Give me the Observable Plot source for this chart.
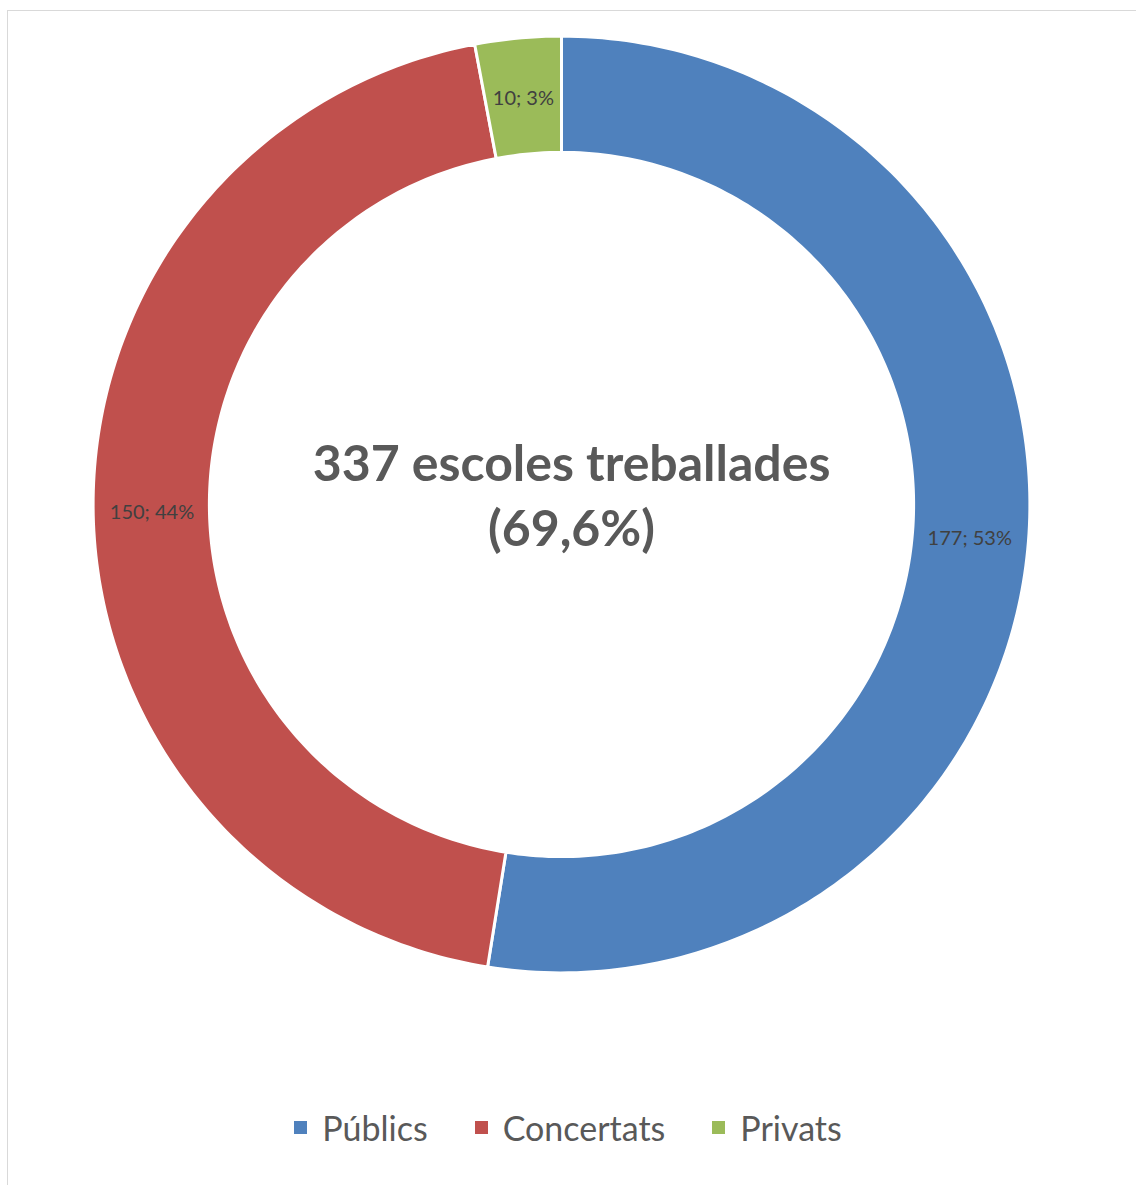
<!DOCTYPE html>
<html>
<head>
<meta charset="utf-8">
<script src="https://cdn.jsdelivr.net/npm/d3@7"></script>
<script src="https://cdn.jsdelivr.net/npm/@observablehq/plot@0.6"></script>
<style>
  html, body { margin: 0; padding: 0; background: #fff; }
  body { width: 1136px; height: 1185px; position: relative; overflow: hidden; font-family: Lato, "Open Sans", sans-serif; }
  #frame { position: absolute; left: 7px; top: 10px; width: 1300px; height: 1300px; border-left: 1.5px solid #d9d9d9; border-top: 1.5px solid #d9d9d9; }
  #chart { position: absolute; left: 0; top: 0; }
  #legend { position: absolute; left: 0; top: 1107px; width: 1136px; display: flex; justify-content: center; gap: 47px; padding-left: 0px; box-sizing: border-box; }
  .item { display: flex; align-items: center; font-size: 34px; color: #595959; }
  .sw { width: 13px; height: 13px; margin-right: 15px; }
</style>
</head>
<body>
<div id="frame"></div>
<div id="chart"></div>
<div id="legend"></div>
<script>
// Data
const categories = ["Públics", "Concertats", "Privats"];
const values = [177, 150, 10];
const percents = [53, 44, 3];
const colors = ["#4f81bd", "#c0504d", "#9bbb59"];
const centerLines = ["337 escoles treballades", "(69,6%)"];

// Build slice polygons from the data (angles in radians, clockwise from 12 o'clock)
const total = d3.sum(values);
const outerR = 1.003, innerR = 0.754;
const slices = [];
let acc = 0;
values.forEach((v, i) => {
  const a0 = acc / total * 2 * Math.PI;
  acc += v;
  const a1 = acc / total * 2 * Math.PI;
  slices.push({name: categories[i], value: v, a0, a1, mid: (a0 + a1) / 2, label: `${v}; ${percents[i]}%`});
});
const poly = [];
for (const s of slices) {
  const n = Math.max(8, Math.ceil((s.a1 - s.a0) / (Math.PI / 180)));
  for (let k = 0; k <= n; k++) {
    const a = s.a0 + (s.a1 - s.a0) * k / n;
    poly.push({name: s.name, x: outerR * Math.sin(a), y: outerR * Math.cos(a)});
  }
  for (let k = n; k >= 0; k--) {
    const a = s.a0 + (s.a1 - s.a0) * k / n;
    poly.push({name: s.name, x: innerR * Math.sin(a), y: innerR * Math.cos(a)});
  }
}
const midR = (1 + innerR) / 2;
const labels = slices.map(s => ({label: s.label, x: midR * Math.sin(s.mid), y: midR * Math.cos(s.mid)}));

const plot = Plot.plot({
  width: 1136,
  height: 1080,
  margin: 0,
  x: {domain: [-1, 1], range: [94, 1028], axis: null},
  y: {domain: [-1, 1], range: [971, 37], axis: null},
  color: {domain: categories, range: colors},
  style: {background: "transparent", fontFamily: "Lato, 'Open Sans', sans-serif"},
  marks: [
    Plot.line(poly, {x: "x", y: "y", z: "name", fill: "name", stroke: "white", strokeWidth: 3, curve: "linear-closed"}),
    Plot.text(labels, {x: "x", y: "y", text: "label", fontSize: 20, fill: "#404040", dy: 2}),
    Plot.text([centerLines.join("\n")], {x: () => 0, y: () => 0, text: d => d, fontSize: 50, fontWeight: "bold", fill: "#595959", lineHeight: 1.3, dx: 10, dy: -12})
  ]
});
document.getElementById("chart").appendChild(plot);

const legend = document.getElementById("legend");
categories.forEach((c, i) => {
  const it = document.createElement("div");
  it.className = "item";
  it.innerHTML = `<span class="sw" style="background:${colors[i]}"></span><span>${c}</span>`;
  legend.appendChild(it);
});
</script>
</body>
</html>
